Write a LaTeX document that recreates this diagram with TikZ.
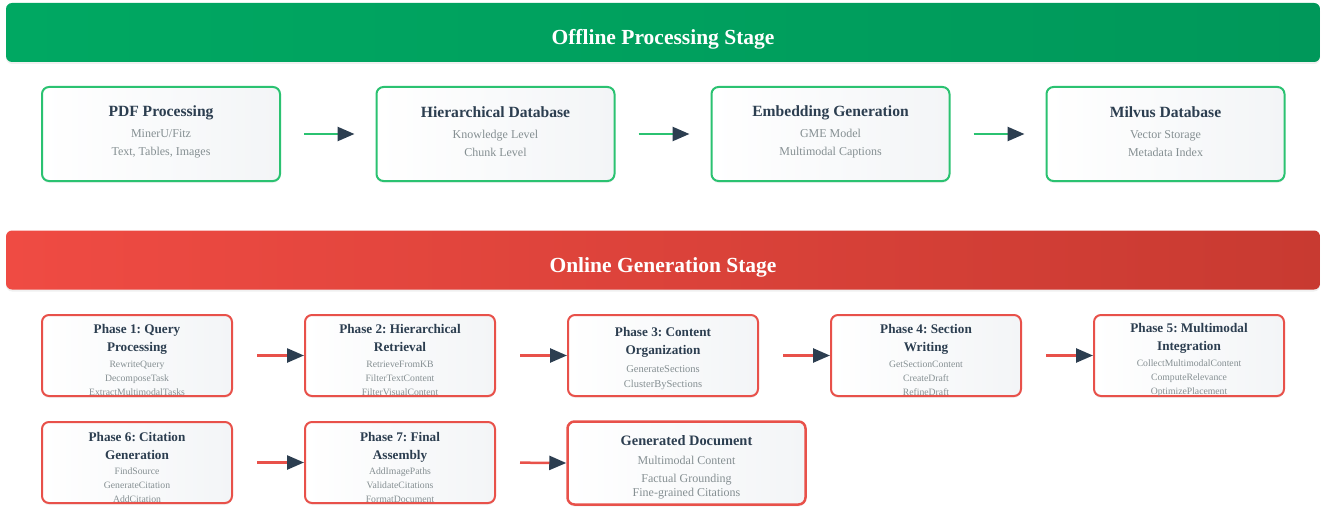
\documentclass[tikz,border=0pt]{standalone}
\usepackage{fontspec}
\setmainfont{Liberation Serif}
\usepackage{tikz}
\usetikzlibrary{arrows.meta, positioning, shadows}
\definecolor{navy}{HTML}{2C3E50}
\definecolor{subgray}{HTML}{858F92}
\definecolor{offgreen}{HTML}{2BC271}
\definecolor{bangreenL}{HTML}{00A862}
\definecolor{bangreenR}{HTML}{00985A}
\definecolor{onred}{HTML}{E8514A}
\definecolor{banredL}{HTML}{EF4B43}
\definecolor{banredR}{HTML}{C83A31}
\definecolor{boxfill}{HTML}{F3F5F7}
\newcommand{\offtitlefont}{\fontsize{15.6}{18}\selectfont\bfseries\color{navy}}
\newcommand{\ontitlefont}{\fontsize{13.2}{18}\selectfont\bfseries\color{navy}}
\frenchspacing

\begin{document}
\begin{tikzpicture}[x=1pt,y=-1pt,
  banner/.style={rounded corners=6pt,minimum width=1314pt,minimum height=59pt,
    drop shadow={opacity=0.12,shadow xshift=0pt,shadow yshift=-2pt}},
  bannertitle/.style={text=white,font=\fontsize{21.5}{24}\selectfont\bfseries},
  card/.style={rounded corners=7pt,line width=2pt,left color=white,right color=boxfill,
    drop shadow={opacity=0.1,shadow xshift=0pt,shadow yshift=-2pt}},
  offcard/.style={card,draw=offgreen,minimum width=238pt,minimum height=94pt},
  oncard/.style={card,draw=onred,minimum width=190pt,minimum height=81pt},
  offtext/.style={align=center,text=subgray,font=\fontsize{12}{18}\selectfont},
  ontext/.style={align=center,text=subgray,font=\fontsize{9.7}{14}\selectfont},
  offarrow/.style={draw=offgreen,line width=2.5pt,-{Triangle[length=17pt,width=14pt,color=navy]}},
  onarrow/.style={draw=onred,line width=2.5pt,-{Triangle[length=17pt,width=14pt,color=navy]}}]
\useasboundingbox (0,0) rectangle (1321,508);

\node[banner,left color=bangreenL,right color=bangreenR] (offline) at (663,32.5) {};
\node[bannertitle] (offlinet) at (663,39) {Offline Processing Stage};

\node[offcard] (pdf) at (161,134) {};
\node[offcard] (hdb) at (495.5,134) {};
\node[offcard] (emb) at (830.5,134) {};
\node[offcard] (milvus) at (1165.5,134) {};

\node[offtext] (pdft) at (161,131.5) {{\offtitlefont PDF Processing}\\[3pt]MinerU/Fitz\\Text, Tables, Images};
\node[offtext] (hdbt) at (495.5,131.5) {{\offtitlefont Hierarchical Database}\\[3pt]Knowledge Level\\Chunk Level};
\node[offtext] (embt) at (830.5,131.5) {{\offtitlefont Embedding Generation}\\[3pt]GME Model\\Multimodal Captions};
\node[offtext] (milvust) at (1165.5,131.5) {{\offtitlefont Milvus Database}\\[3pt]Vector Storage\\Metadata Index};

\draw[offarrow,shorten <=23pt,shorten >=21pt] (pdf.east) -- (hdb.west);
\draw[offarrow,shorten <=23pt,shorten >=21pt] (hdb.east) -- (emb.west);
\draw[offarrow,shorten <=23pt,shorten >=21pt] (emb.east) -- (milvus.west);

\node[banner,left color=banredL,right color=banredR] (online) at (663,260) {};
\node[bannertitle] (onlinet) at (663,267) {Online Generation Stage};

\node[oncard] (ph1) at (137,355.5) {};
\node[oncard] (ph2) at (400,355.5) {};
\node[oncard] (ph3) at (663,355.5) {};
\node[oncard] (ph4) at (926,355.5) {};
\node[oncard] (ph5) at (1189,355.5) {};
\node[oncard] (ph6) at (137,462.5) {};
\node[oncard] (ph7) at (400,462.5) {};
\node[card,draw=onred,line width=2.5pt,minimum width=238pt,minimum height=83pt] (doc) at (686.5,463) {};

\node[ontext] (ph1t) at (137,360) {{\ontitlefont Phase 1: Query}\\[4pt]{\ontitlefont Processing}\\[1.5pt]RewriteQuery\\DecomposeTask\\ExtractMultimodalTasks};
\node[ontext] (ph2t) at (400,360) {{\ontitlefont Phase 2: Hierarchical}\\[4pt]{\ontitlefont Retrieval}\\[1.5pt]RetrieveFromKB\\FilterTextContent\\FilterVisualContent};
\node[ontext,font=\fontsize{10.5}{15}\selectfont] (ph3t) at (663,358.5) {{\ontitlefont Phase 3: Content}\\[3pt]{\ontitlefont Organization}\\[3pt]GenerateSections\\ClusterBySections};
\node[ontext] (ph4t) at (926,360) {{\ontitlefont Phase 4: Section}\\[4pt]{\ontitlefont Writing}\\[1.5pt]GetSectionContent\\CreateDraft\\RefineDraft};
\node[ontext] (ph5t) at (1189,360) {{\ontitlefont Phase 5: Multimodal}\\[4pt]{\ontitlefont Integration}\\[1.5pt]CollectMultimodalContent\\ComputeRelevance\\OptimizePlacement};
\node[ontext] (ph6t) at (137,467.5) {{\ontitlefont Phase 6: Citation}\\[4pt]{\ontitlefont Generation}\\[1.5pt]FindSource\\GenerateCitation\\AddCitation};
\node[ontext] (ph7t) at (400,467.5) {{\ontitlefont Phase 7: Final}\\[4pt]{\ontitlefont Assembly}\\[1.5pt]AddImagePaths\\ValidateCitations\\FormatDocument};
\node[ontext,font=\fontsize{12}{14}\selectfont] (doct) at (686.5,467) {{\fontsize{14.4}{18}\selectfont\bfseries\color{navy}Generated Document}\\[5pt]Multimodal Content\\[4pt]Factual Grounding\\Fine-grained Citations};

\draw[onarrow,shorten <=24pt] (ph1.east) -- (ph2.west);
\draw[onarrow,shorten <=24pt] (ph2.east) -- (ph3.west);
\draw[onarrow,shorten <=24pt] (ph3.east) -- (ph4.west);
\draw[onarrow,shorten <=24pt] (ph4.east) -- (ph5.west);
\draw[onarrow,shorten <=24pt] (ph6.east) -- (ph7.west);
\draw[onarrow,shorten <=24pt] (ph7.east) -- (doc.west);
\end{tikzpicture}
\end{document}
